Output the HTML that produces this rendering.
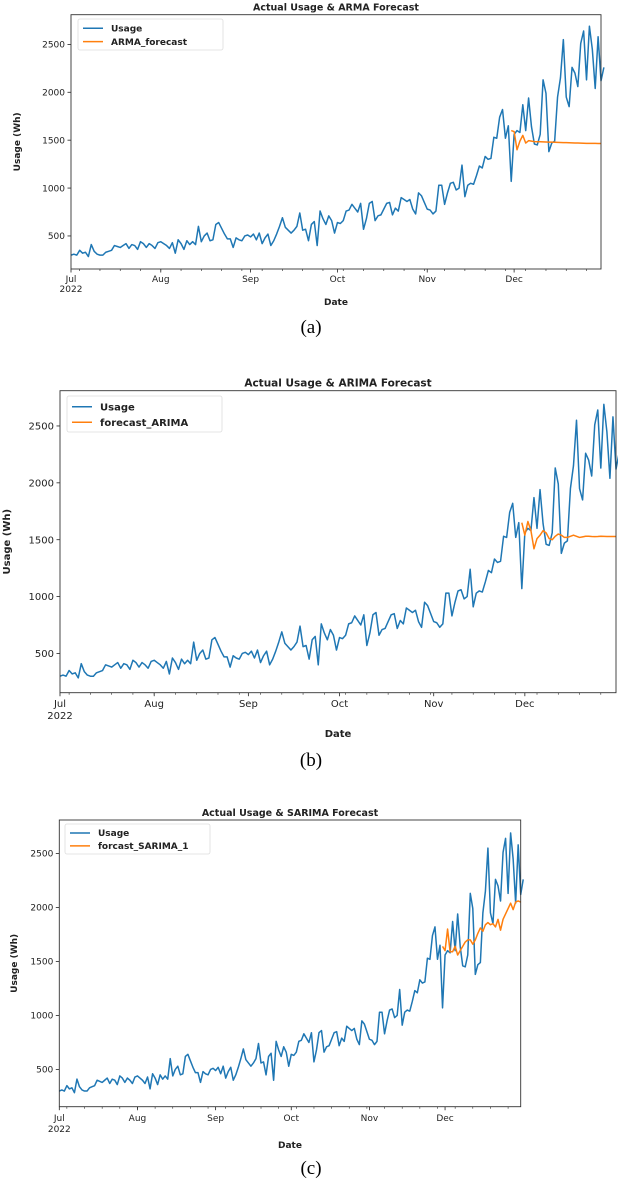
<!DOCTYPE html>
<html><head><meta charset="utf-8">
<style>
html,body{margin:0;padding:0;background:#fff;}
svg{display:block;}
text{font-family:"DejaVu Sans","Liberation Sans",sans-serif;fill:#222;}
.cap{font-family:"Liberation Serif",serif;fill:#000;}
</style></head>
<body>
<svg id="fig" width="618" height="1181" viewBox="0 0 618 1181" xmlns="http://www.w3.org/2000/svg"></svg>
<script>
// Daily usage Jul 1 – Dec 31, 2022
const usageJul = [300,310,300,350,320,330,285,410,340,310,300,300,330,340,350,400,390,380,400,420,370,410,400,360,440,420,380,420,400,370,430];
const usageAug = [440,420,400,370,430,320,460,420,360,450,410,440,410,600,440,500,530,450,460,620,640,580,520,470,470,380,480,460,450,500,510];
const usageSep = [490,520,460,530,420,480,520,400,450,520,600,690,590,560,530,560,600,740,560,570,450,620,650,400,760,680,620,710,660,530];
const usageOct = [640,630,660,760,770,830,790,750,840,570,680,840,860,660,710,720,780,840,850,720,790,760,900,880,860,880,780,730,950,920,850];
const usageNov = [780,770,730,760,1030,1030,830,950,1050,1060,980,1000,1240,910,1030,1050,1040,1130,1230,1210,1330,1300,1310,1530,1520,1740,1820,1520,1650,1070,1560];
const usageDec = [1600,1580,1870,1600,1940,1640,1460,1450,1560,2130,1990,1380,1470,1490,1950,2150,2550,1950,1850,2260,2200,2060,2510,2640,2130,2690,2450,2040,2580,2120,2260];
// forecasts start at Nov 30 (day index 152)
const armaForecast = [1600,1590,1400,1490,1550,1470,1495,1490,1485,1484,1483,1482,1481,1480,1479,1478,1477,1476,1475,1474,1473,1472,1471,1470,1469,1468,1467,1467,1466,1466,1465,1465];
const arimaForecast = [1650,1540,1660,1580,1420,1510,1540,1580,1560,1510,1500,1530,1550,1540,1520,1520,1530,1540,1530,1520,1525,1530,1530,1528,1527,1528,1530,1529,1528,1528,1528,1528];
const sarimaForecast = [1640,1600,1800,1590,1590,1640,1560,1600,1640,1680,1700,1700,1660,1700,1760,1810,1780,1840,1860,1840,1850,1820,1890,1790,1890,1940,1990,2040,1980,2050,2060,2050];
const yTicks = [500,1000,1500,2000,2500];
const monthLabels = ["Jul","Aug","Sep","Oct","Nov","Dec"];
const monthStarts = [0,31,62,92,123,153];

const usage = usageJul.concat(usageAug,usageSep,usageOct,usageNov,usageDec);
const NS="http://www.w3.org/2000/svg";
const fig=document.getElementById('fig');
function mk(tag,attrs,parent){const e=document.createElementNS(NS,tag);for(const k in attrs)e.setAttribute(k,attrs[k]);(parent||fig).appendChild(e);return e;}

const panels=[
 {id:'a',L:71,R:601,T:14.7,B:269,title:'Actual Usage & ARMA Forecast',fc:armaForecast,fname:'ARMA_forecast',fs:9,tfs:9.5,
  ylabX:20,leg:{x:78,y:19,w:145,h:31},tickY:282,yearY:292,dateY:305,capY:333},
 {id:'b',L:60,R:616,T:390.7,B:692.7,title:'Actual Usage & ARIMA Forecast',fc:arimaForecast,fname:'forecast_ARIMA',fs:10,tfs:10.5,
  ylabX:10,leg:{x:67,y:396,w:155,h:36},tickY:707,yearY:719,dateY:737,capY:766},
 {id:'c',L:59.3,R:520.7,T:820,B:1106.7,title:'Actual Usage & SARIMA Forecast',fc:sarimaForecast,fname:'forcast_SARIMA_1',fs:9,tfs:9.5,
  ylabX:17,leg:{x:65,y:824,w:145,h:30},tickY:1121,yearY:1132,dateY:1148,capY:1174}
];
const yMin=155,yMax=2810,nDays=183;

panels.forEach(p=>{
  const g=mk('g',{});
  
  
  const x=d=>p.L+(d/nDays)*(p.R-p.L);
  const y=v=>p.B-(v-yMin)/(yMax-yMin)*(p.B-p.T);
  const cx=(p.L+p.R)/2;
  const t=mk('text',{x:cx,y:p.T-4,'text-anchor':'middle','font-size':p.tfs,'font-weight':'bold'},g);
  t.textContent=p.title;
  
  
  // y ticks
  yTicks.forEach(v=>{
    mk('line',{x1:p.L-3.5,x2:p.L,y1:y(v),y2:y(v),stroke:'#222','stroke-width':0.8},g);
    const tl=mk('text',{x:p.L-6,y:y(v)+p.fs*0.36,'text-anchor':'end','font-size':p.fs},g);
    tl.textContent=v;
    
    
  });
  // minor ticks weekly
  for(let d=3;d<=nDays;d+=7){mk('line',{x1:x(d),x2:x(d),y1:p.B,y2:p.B+2,stroke:'#222','stroke-width':0.6},g);}
  monthStarts.forEach((d,i)=>{
    mk('line',{x1:x(d),x2:x(d),y1:p.B,y2:p.B+3.5,stroke:'#222','stroke-width':0.8},g);
    const ml=mk('text',{x:x(d),y:p.tickY,'text-anchor':'middle','font-size':p.fs},g);
    ml.textContent=monthLabels[i];
    
    
  });
  const yr=mk('text',{x:x(0),y:p.yearY,'text-anchor':'middle','font-size':p.fs},g);
  yr.textContent='2022';
  
  
  const xl=mk('text',{x:cx,y:p.dateY,'text-anchor':'middle','font-size':p.fs,'font-weight':'bold'},g);
  xl.textContent='Date';
  
  
  const my=(p.T+p.B)/2;
  const yl=mk('text',{x:p.ylabX,y:my,'text-anchor':'middle','font-size':p.fs,'font-weight':'bold',transform:`rotate(-90 ${p.ylabX} ${my})`},g);
  yl.textContent='Usage (Wh)';
  
  
  // series
  const up=mk('polyline',{points:usage.map((v,i)=>x(i)+','+y(v)).join(' '),fill:'none',stroke:'#1f77b4','stroke-width':1.5,'stroke-linejoin':'round'},g);
  
  
  const off=152;
  const fp=mk('polyline',{points:p.fc.map((v,i)=>x(off+i)+','+y(v)).join(' '),fill:'none',stroke:'#ff7f0e','stroke-width':1.5,'stroke-linejoin':'round'},g);
  
  
  // frame
  const fr=mk('rect',{x:p.L,y:p.T,width:p.R-p.L,height:p.B-p.T,fill:'none',stroke:'#333','stroke-width':0.9},g);
  
  
  // legend
  const lg=mk('g',{},g);
  
  
  const l=p.leg;
  mk('rect',{x:l.x,y:l.y,width:l.w,height:l.h,rx:2,fill:'#fff',stroke:'#ddd','stroke-width':0.8},lg);
  const r1=l.y+l.h*0.3, r2=l.y+l.h*0.73;
  mk('line',{x1:l.x+5,x2:l.x+25,y1:r1,y2:r1,stroke:'#1f77b4','stroke-width':1.5},lg);
  mk('line',{x1:l.x+5,x2:l.x+25,y1:r2,y2:r2,stroke:'#ff7f0e','stroke-width':1.5},lg);
  const e1=mk('text',{x:l.x+33,y:r1+p.fs*0.36,'font-size':p.fs,'font-weight':'bold'},lg);
  e1.textContent='Usage';
  
  
  const e2=mk('text',{x:l.x+33,y:r2+p.fs*0.36,'font-size':p.fs,'font-weight':'bold'},lg);
  e2.textContent=p.fname;
  
  
  const cap=mk('text',{x:311,y:p.capY,'text-anchor':'middle','font-size':19,class:'cap'},g);
  cap.textContent='('+p.id+')';
  
  
});
</script>
</body></html>
